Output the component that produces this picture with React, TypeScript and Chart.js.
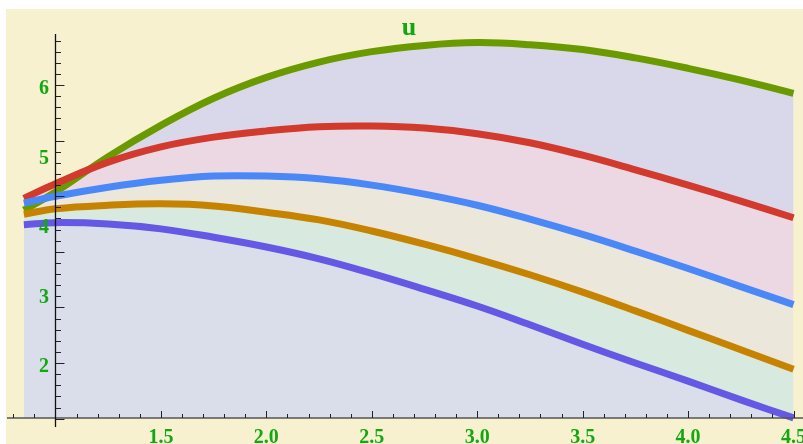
import React, { useEffect, useRef } from "react";
import { Chart, registerables } from "chart.js";

Chart.register(...registerables);

// x positions of sampled points
const xValues = [0.85, 1.0, 1.25, 1.5, 1.75, 2.0, 2.25, 2.5, 2.75, 3.0, 3.25, 3.5, 3.75, 4.0, 4.25, 4.5];

// series (bottom to top at the right end)
const purpleSeries = [3.99, 4.02, 4.0, 3.93, 3.81, 3.67, 3.5, 3.29, 3.06, 2.82, 2.55, 2.27, 2.0, 1.74, 1.47, 1.21];
const orangeSeries = [4.14, 4.22, 4.27, 4.29, 4.26, 4.17, 4.06, 3.9, 3.71, 3.5, 3.27, 3.02, 2.75, 2.47, 2.19, 1.91];
const blueSeries = [4.3, 4.4, 4.53, 4.63, 4.69, 4.69, 4.65, 4.56, 4.43, 4.27, 4.07, 3.85, 3.61, 3.36, 3.1, 2.84];
const redSeries = [4.37, 4.58, 4.89, 5.11, 5.25, 5.34, 5.4, 5.41, 5.38, 5.3, 5.17, 4.99, 4.78, 4.56, 4.33, 4.09];
const greenSeries = [4.2, 4.46, 4.97, 5.42, 5.81, 6.11, 6.33, 6.48, 6.57, 6.61, 6.58, 6.51, 6.39, 6.24, 6.07, 5.88];

// tick labels
const xTickLabels = ["1.5", "2.0", "2.5", "3.0", "3.5", "4.0", "4.5"];
const yTickLabels = ["2", "3", "4", "5", "6"];
const plotLabel = "u";

const X_MIN = 0.77;
const X_MAX = 4.545;
const Y_MIN = 1.209;
const Y_MAX = 6.734;

const LABEL_COLOR = "#12a812";
const LABEL_FONT = "bold 20px 'Liberation Serif', 'DejaVu Serif', serif";

const toPoints = (ys: number[]) => xValues.map((x, i) => ({ x, y: ys[i] }));

const bgPlugin = {
  id: "bgPlugin",
  beforeDraw(chart: any) {
    const ctx = chart.ctx;
    ctx.save();
    ctx.fillStyle = "#ffffff";
    ctx.fillRect(0, 0, chart.width, chart.height);
    ctx.fillStyle = "#f7f1cf";
    ctx.fillRect(6, 9, chart.width - 6, chart.height - 9);
    ctx.restore();
  },
};

const axesPlugin = {
  id: "axesPlugin",
  afterDatasetsDraw(chart: any) {
    const ctx = chart.ctx;
    const xs = chart.scales.x;
    const ys = chart.scales.y;
    const area = chart.chartArea;
    const axisX = xs.getPixelForValue(1.0);
    const axisY = area.bottom;
    ctx.save();
    // x axis line
    ctx.strokeStyle = "#555555";
    ctx.lineWidth = 1.5;
    ctx.beginPath();
    ctx.moveTo(7, axisY);
    ctx.lineTo(chart.width, axisY);
    ctx.stroke();
    // y axis line
    ctx.strokeStyle = "#111111";
    ctx.lineWidth = 1.3;
    ctx.beginPath();
    ctx.moveTo(axisX, area.top);
    ctx.lineTo(axisX, axisY + 9);
    ctx.stroke();

    // x ticks every 0.1
    ctx.strokeStyle = "#222222";
    ctx.lineWidth = 1;
    for (let k = 8; k <= 45; k++) {
      const v = k / 10;
      if (Math.abs(v - 1.0) < 1e-9) continue;
      const px = Math.round(xs.getPixelForValue(v)) + 0.5;
      const major = k % 5 === 0;
      ctx.beginPath();
      ctx.moveTo(px, axisY);
      ctx.lineTo(px, axisY - (major ? 7 : 4));
      ctx.stroke();
    }
    // y ticks every 0.16, major every 0.8 from 2.0
    for (let k = -5; k <= 29; k++) {
      const v = 2.0 + k * 0.16;
      if (v > Y_MAX - 0.05) break;
      const py = Math.round(ys.getPixelForValue(v)) + 0.5;
      const major = ((k % 5) + 5) % 5 === 0;
      ctx.beginPath();
      ctx.moveTo(axisX, py);
      ctx.lineTo(axisX + (major ? 9 : 5.5), py);
      ctx.stroke();
    }

    // labels
    ctx.fillStyle = LABEL_COLOR;
    ctx.font = LABEL_FONT;
    ctx.textAlign = "center";
    ctx.textBaseline = "alphabetic";
    xTickLabels.forEach((t) => {
      const px = xs.getPixelForValue(parseFloat(t));
      ctx.fillText(t, px, 442.5);
    });
    ctx.textAlign = "right";
    ctx.textBaseline = "middle";
    yTickLabels.forEach((t) => {
      const py = ys.getPixelForValue(parseFloat(t));
      ctx.fillText(t, 49, py + 4);
    });
    ctx.textAlign = "center";
    ctx.textBaseline = "alphabetic";
    ctx.font = "bold 26px 'Liberation Serif', 'DejaVu Serif', serif";
    ctx.fillText(plotLabel, 409, 35);
    ctx.restore();
  },
};

export default function App() {
  const canvasRef = useRef<HTMLCanvasElement | null>(null);

  useEffect(() => {
    document.body.style.margin = "0";
    const canvas = canvasRef.current;
    if (!canvas) return;
    const lineCommon = {
      borderWidth: 7,
      pointRadius: 0,
      tension: 0.4,
      clip: false as any,
    };
    const chart = new Chart(canvas, {
      type: "line",
      data: {
        datasets: [
          {
            ...lineCommon,
            data: toPoints(purpleSeries),
            borderColor: "#6458e4",
            backgroundColor: "#d9deea",
            fill: "start",
          },
          {
            ...lineCommon,
            data: toPoints(orangeSeries),
            borderColor: "#c68300",
            backgroundColor: "#d8eadf",
            fill: { target: "-1", above: "#d8eadf", below: "#d8eadf" },
          },
          {
            ...lineCommon,
            data: toPoints(blueSeries),
            borderColor: "#4a88f8",
            backgroundColor: "#ebe7da",
            fill: { target: "-1", above: "#ebe7da", below: "#ebe7da" },
          },
          {
            ...lineCommon,
            data: toPoints(redSeries),
            borderColor: "#d13a2c",
            backgroundColor: "#ebd8e3",
            fill: { target: "-1", above: "#ebd8e3", below: "#ebd8e3" },
          },
          {
            ...lineCommon,
            data: toPoints(greenSeries),
            borderColor: "#6a9a00",
            backgroundColor: "#d9d8ea",
            fill: { target: "-1", above: "#d9d8ea", below: "#d9d8ea" },
          },
        ] as any,
      },
      options: {
        animation: false,
        responsive: false,
        maintainAspectRatio: false,
        devicePixelRatio: 1,
        layout: { padding: { left: 7, right: 0, top: 34, bottom: 26 } },
        scales: {
          x: { type: "linear", min: X_MIN, max: X_MAX, display: false },
          y: { type: "linear", min: Y_MIN, max: Y_MAX, display: false },
        },
        plugins: {
          legend: { display: false },
          tooltip: { enabled: false },
          filler: { drawTime: "beforeDatasetsDraw" } as any,
        },
      },
      plugins: [bgPlugin, axesPlugin],
    });
    return () => chart.destroy();
  }, []);

  return (
    <div style={{ position: "fixed", left: 0, top: 0, width: 803, height: 444 }}>
      <canvas ref={canvasRef} width={803} height={444} style={{ width: 803, height: 444, display: "block" }} />
    </div>
  );
}
